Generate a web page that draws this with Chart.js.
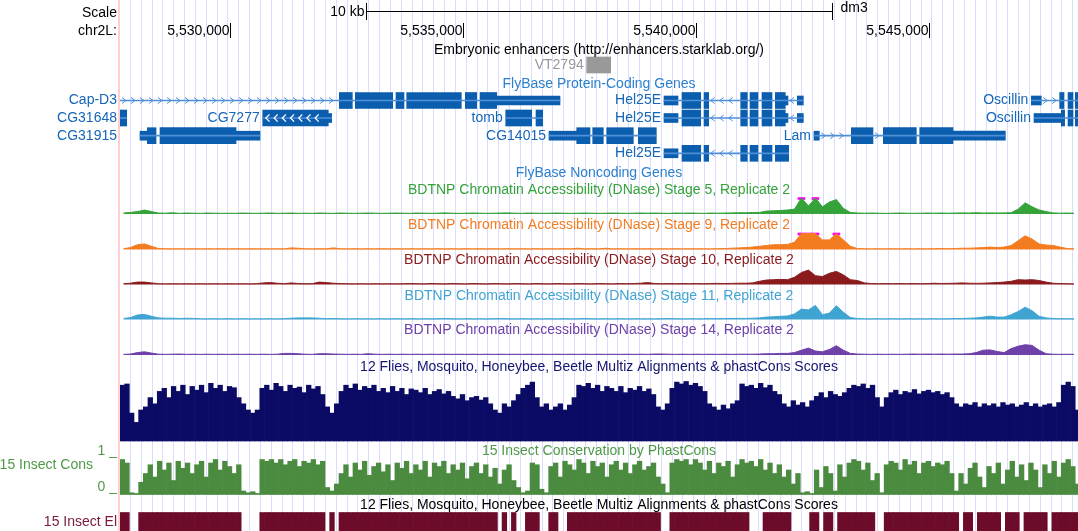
<!DOCTYPE html>
<html>
<head>
<meta charset="utf-8">
<script src="https://cdn.jsdelivr.net/npm/chart.js@4.4.1/dist/chart.umd.min.js"></script>
<style>
html,body{margin:0;padding:0;background:#fff;overflow:hidden;}
canvas{display:block;}
</style>
</head>
<body>
<canvas id="c" width="1078" height="531"></canvas>
<script>
// ================= DATA =================
const viewStart = 5527640;
const viewEnd = 5548200;
const chromLabel = 'chr2L:';
const assemblyLabel = 'dm3';
const rulerTicks = [5530000, 5535000, 5540000, 5545000];
const scaleBarBp = 10000;
const scaleBarLabel = '10 kb';

// Embryonic enhancers
const enhancerNames = ['VT2794'];
const enhancerStarts = [5537656];
const enhancerEnds = [5538171];

// FlyBase protein-coding genes
const geneNames   = ['Cap-D3','CG31648','CG7277','CG31915','tomb','CG14015','Hel25E','Hel25E','Hel25E','Lam','Oscillin','Oscillin'];
const geneRows    = [0,1,1,2,1,2,0,1,3,2,0,1];
const geneStrands = ['+','+','-','+','-','-','-','-','-','+','+','+'];
const geneExonArrows = [false,false,true,false,false,false,false,false,false,false,false,false];
const geneTx = [
  [5527500,5537083],[5527500,5527784],[5530703,5532183],[5528069,5530645],[5535918,5536712],[5536847,5539150],
  [5539315,5542305],[5539315,5542305],[5539315,5541991],[5542534,5546640],[5547198,5548400],[5547256,5548400]
];
const geneCds = [
  [[5532347,5532626],[5532690,5533493],[5533563,5533735],[5533793,5534965],[5535051,5535295],[5535366,5535725]],
  [[5527500,5527784]],
  [[5530703,5532110]],
  [[5528226,5528413],[5528498,5530130]],
  [[5535918,5536476],[5536568,5536712]],
  [[5537442,5537727],[5537785,5538012],[5538085,5538656],[5538764,5539150]],
  [[5539701,5540103],[5540174,5540274],[5540961,5541103],[5541161,5541332],[5541418,5541633],[5541704,5541918]],
  [[5539701,5540103],[5540174,5540274],[5540961,5541103],[5541161,5541332],[5541418,5541633],[5541704,5541918]],
  [[5539701,5540103],[5540174,5540274],[5540961,5541103],[5541161,5541332],[5541418,5541633],[5541704,5541991]],
  [[5543335,5543800],[5544022,5544730],[5544803,5545517]],
  [[5547807,5547900],[5547986,5548093],[5548142,5548400]],
  [[5547842,5547913],[5547986,5548093],[5548142,5548400]]
];
const geneUtr = [
  [[5535725,5537083]],
  [],
  [[5532110,5532183]],
  [[5528069,5528226],[5530130,5530645]],
  [],
  [[5536847,5537442]],
  [[5539315,5539616],[5541918,5541976],[5542176,5542305]],
  [[5539315,5539616],[5541918,5541976],[5542176,5542305]],
  [[5539315,5539616]],
  [[5542534,5542648],[5545517,5546640]],
  [[5547198,5547412]],
  [[5547256,5547842]]
];

// BDTNP DNase accessibility, 150 bp bins from viewStart (1.0 = track maximum)
const dnaseBinBp = 150;
const dnaseStage5 = [0.06,0.1,0.15,0.25,0.15,0.06,0.05,0.08,0.04,0.06,
 0.05,0.04,0.06,0.05,0.04,0.05,0.04,0.06,0.05,0.04,
 0.05,0.06,0.04,0.05,0.06,0.04,0.05,0.04,0.06,0.05,
 0.04,0.06,0.05,0.04,0.05,0.06,0.05,0.04,0.05,0.06,
 0.05,0.04,0.06,0.05,0.04,0.05,0.07,0.05,0.04,0.05,
 0.06,0.05,0.04,0.05,0.06,0.07,0.05,0.04,0.06,0.05,
 0.04,0.05,0.06,0.05,0.04,0.05,0.06,0.05,0.04,0.05,
 0.06,0.05,0.04,0.05,0.06,0.05,0.06,0.05,0.04,0.06,
 0.05,0.06,0.05,0.04,0.06,0.05,0.06,0.07,0.08,0.08,
 0.09,0.1,0.18,0.2,0.22,0.25,0.3,1.1,0.5,1.1,
 0.45,0.75,0.9,0.35,0.1,0.06,0.05,0.06,0.05,0.04,
 0.05,0.06,0.05,0.04,0.05,0.06,0.05,0.06,0.05,0.06,
 0.07,0.06,0.08,0.06,0.07,0.06,0.07,0.08,0.3,0.7,
 0.45,0.25,0.15,0.07,0.05,0.06,0.05];
const dnaseStage9 = [0.05,0.12,0.3,0.35,0.2,0.06,0.05,0.04,0.05,0.04,
 0.05,0.04,0.05,0.04,0.05,0.04,0.05,0.04,0.05,0.04,
 0.05,0.04,0.05,0.04,0.1,0.08,0.05,0.04,0.05,0.04,
 0.1,0.05,0.04,0.05,0.04,0.05,0.04,0.05,0.04,0.05,
 0.04,0.05,0.04,0.05,0.04,0.05,0.04,0.05,0.04,0.05,
 0.04,0.05,0.04,0.05,0.04,0.05,0.04,0.05,0.04,0.05,
 0.04,0.05,0.04,0.05,0.04,0.08,0.04,0.05,0.04,0.08,
 0.04,0.05,0.04,0.05,0.04,0.05,0.04,0.05,0.04,0.05,
 0.04,0.05,0.04,0.05,0.04,0.05,0.06,0.08,0.1,0.12,
 0.15,0.2,0.25,0.3,0.3,0.32,0.45,1.1,1.05,1.1,
 0.6,0.6,1.1,0.6,0.2,0.06,0.05,0.04,0.05,0.04,
 0.05,0.04,0.05,0.04,0.05,0.04,0.05,0.06,0.05,0.06,
 0.08,0.08,0.1,0.12,0.15,0.12,0.15,0.25,0.55,0.86,
 0.65,0.35,0.28,0.25,0.15,0.06,0.04];
const dnaseStage10 = [0.05,0.08,0.15,0.15,0.1,0.05,0.04,0.05,0.04,0.05,
 0.04,0.05,0.04,0.05,0.04,0.05,0.04,0.05,0.04,0.05,
 0.1,0.12,0.08,0.05,0.1,0.06,0.05,0.05,0.15,0.12,
 0.08,0.06,0.05,0.04,0.05,0.04,0.05,0.04,0.05,0.04,
 0.05,0.06,0.05,0.04,0.06,0.05,0.04,0.06,0.05,0.04,
 0.06,0.05,0.04,0.06,0.05,0.04,0.06,0.05,0.04,0.06,
 0.05,0.04,0.06,0.05,0.04,0.06,0.05,0.04,0.06,0.05,
 0.04,0.06,0.05,0.06,0.08,0.12,0.06,0.05,0.06,0.05,
 0.06,0.05,0.06,0.05,0.06,0.07,0.06,0.07,0.08,0.08,
 0.1,0.2,0.28,0.3,0.32,0.3,0.45,0.75,0.9,0.55,
 0.5,0.7,0.82,0.6,0.3,0.25,0.1,0.06,0.05,0.06,
 0.05,0.06,0.05,0.06,0.05,0.06,0.08,0.06,0.07,0.08,
 0.1,0.08,0.07,0.08,0.1,0.12,0.15,0.2,0.3,0.28,
 0.3,0.25,0.15,0.08,0.06,0.05,0.04];
const dnaseStage11 = [0.06,0.12,0.28,0.32,0.2,0.1,0.08,0.08,0.06,0.08,
 0.07,0.05,0.04,0.05,0.04,0.05,0.04,0.05,0.04,0.05,
 0.04,0.05,0.04,0.05,0.08,0.1,0.1,0.1,0.08,0.05,
 0.06,0.05,0.04,0.05,0.04,0.05,0.04,0.05,0.04,0.05,
 0.04,0.05,0.04,0.05,0.04,0.05,0.06,0.05,0.04,0.05,
 0.04,0.05,0.04,0.05,0.06,0.05,0.04,0.05,0.04,0.05,
 0.04,0.05,0.04,0.05,0.04,0.05,0.06,0.05,0.04,0.05,
 0.04,0.05,0.04,0.05,0.04,0.05,0.04,0.05,0.06,0.05,
 0.04,0.05,0.04,0.05,0.06,0.05,0.06,0.06,0.07,0.07,
 0.08,0.1,0.15,0.17,0.2,0.22,0.35,0.65,0.6,0.88,
 0.3,0.4,0.86,0.45,0.12,0.06,0.05,0.04,0.05,0.04,
 0.05,0.04,0.05,0.04,0.05,0.04,0.05,0.04,0.05,0.06,
 0.06,0.08,0.1,0.15,0.21,0.15,0.15,0.3,0.5,0.77,
 0.55,0.2,0.1,0.06,0.05,0.05,0.04];
const dnaseStage14 = [0.04,0.06,0.15,0.2,0.12,0.05,0.04,0.05,0.06,0.04,
 0.05,0.04,0.05,0.04,0.05,0.04,0.05,0.04,0.05,0.04,
 0.05,0.04,0.05,0.1,0.1,0.08,0.05,0.04,0.08,0.08,
 0.06,0.05,0.04,0.05,0.04,0.08,0.05,0.04,0.05,0.04,
 0.05,0.04,0.05,0.04,0.05,0.04,0.05,0.04,0.05,0.04,
 0.05,0.04,0.05,0.04,0.05,0.04,0.05,0.04,0.05,0.04,
 0.05,0.04,0.05,0.04,0.05,0.04,0.05,0.04,0.05,0.04,
 0.05,0.04,0.05,0.04,0.05,0.04,0.06,0.06,0.05,0.04,
 0.05,0.04,0.05,0.04,0.05,0.04,0.05,0.04,0.05,0.05,
 0.05,0.06,0.08,0.08,0.1,0.1,0.15,0.3,0.43,0.25,
 0.2,0.35,0.58,0.3,0.1,0.06,0.05,0.04,0.05,0.04,
 0.05,0.04,0.05,0.06,0.05,0.06,0.05,0.06,0.05,0.06,
 0.06,0.08,0.15,0.3,0.32,0.22,0.15,0.4,0.55,0.64,
 0.6,0.3,0.08,0.05,0.04,0.05,0.04];

// Conservation tracks, 100 bp bins from viewStart
const consBinBp = 100;
const multizScores = [0.9,0.92,0.45,0.3,0.5,0.55,0.7,0.6,0.8,0.85,
 0.7,0.88,0.8,0.9,0.75,0.88,0.82,0.9,0.78,0.93,
 0.85,0.9,0.8,0.88,0.86,0.7,0.6,0.5,0.45,0.5,
 0.85,0.9,0.82,0.93,0.88,0.8,0.9,0.85,0.87,0.78,
 0.9,0.84,0.88,0.75,0.55,0.45,0.6,0.8,0.9,0.85,
 0.92,0.82,0.88,0.85,0.9,0.8,0.85,0.78,0.88,0.8,
 0.85,0.75,0.84,0.82,0.78,0.85,0.75,0.8,0.83,0.76,
 0.8,0.72,0.68,0.75,0.65,0.7,0.72,0.66,0.7,0.6,
 0.5,0.45,0.6,0.55,0.65,0.75,0.85,0.9,0.95,0.7,
 0.55,0.6,0.5,0.55,0.6,0.5,0.58,0.7,0.9,0.88,
 0.93,0.85,0.9,0.8,0.88,0.85,0.8,0.88,0.78,0.85,
 0.82,0.88,0.8,0.84,0.75,0.55,0.5,0.6,0.85,0.95,
 0.92,0.96,0.9,0.93,0.88,0.8,0.6,0.55,0.5,0.58,
 0.52,0.6,0.65,0.92,0.88,0.9,0.85,0.93,0.86,0.9,
 0.8,0.75,0.6,0.55,0.65,0.58,0.62,0.55,0.65,0.72,
 0.78,0.7,0.8,0.75,0.72,0.78,0.85,0.9,0.88,0.92,
 0.85,0.9,0.7,0.55,0.7,0.78,0.82,0.75,0.8,0.78,
 0.83,0.76,0.8,0.82,0.78,0.8,0.75,0.78,0.7,0.6,
 0.55,0.6,0.58,0.62,0.55,0.6,0.57,0.6,0.55,0.62,
 0.58,0.6,0.55,0.58,0.62,0.56,0.6,0.55,0.58,0.6,
 0.55,0.62,0.9,0.95,0.88,0.5];
const phastConsScores = [1.0,0.9,0.05,0.03,0.35,0.6,0.85,0.5,0.95,0.7,
 0.9,0.4,0.95,0.75,0.9,0.6,0.85,0.95,0.5,0.9,
 1.0,0.7,0.95,0.8,0.6,0.85,0.1,0.05,0.08,0.03,
 1.0,0.95,1.0,0.9,1.0,0.85,0.95,1.0,0.8,0.95,
 0.9,1.0,0.85,0.95,0.2,0.1,0.3,0.6,0.85,0.5,
 0.9,0.7,0.95,0.55,0.8,0.9,0.65,0.85,0.4,0.9,
 0.75,0.95,0.6,0.85,0.7,0.95,0.5,0.9,0.8,0.95,
 0.6,0.85,0.7,0.9,0.45,0.8,0.9,0.6,0.85,0.5,
 0.75,0.3,0.7,0.85,0.4,0.2,0.05,0.1,0.9,0.85,
 0.15,0.05,0.8,0.9,0.5,0.95,0.85,0.7,1.0,0.9,
 0.6,0.95,0.8,0.9,0.5,0.85,0.95,0.7,0.9,0.6,
 0.85,0.95,0.7,0.8,0.9,0.5,0.3,0.05,0.9,1.0,
 0.95,1.0,0.85,1.0,0.9,0.7,0.95,0.6,0.9,0.8,
 0.95,0.5,0.85,1.0,0.9,0.95,0.8,1.0,0.7,0.9,
 0.6,0.85,0.5,0.7,0.3,0.6,0.05,0.08,0.03,0.7,
 0.2,0.8,0.6,0.1,0.85,0.5,0.9,1.0,0.95,0.7,
 0.9,0.4,0.6,0.05,0.85,0.95,0.9,0.7,1.0,0.85,
 0.95,0.6,0.9,0.95,0.8,0.9,0.85,0.95,0.6,0.1,
 0.6,0.3,0.75,0.9,0.5,0.2,0.8,0.6,0.9,0.3,
 0.7,0.95,0.5,0.85,0.4,0.9,0.7,0.2,0.85,0.6,
 0.95,0.5,0.9,1.0,0.8,0.3];
const insectElements = [1,1,0,0,1,1,1,1,1,1,
 1,1,1,1,1,1,1,1,1,1,
 1,1,1,1,1,1,0,0,0,0,
 1,1,1,1,1,1,1,1,1,1,
 1,1,1,1,0,1,0,1,1,1,
 1,1,1,1,1,1,1,1,1,1,
 1,1,1,1,1,1,1,1,1,1,
 1,1,1,1,1,1,1,1,1,1,
 1,0,1,0,1,0,0,1,1,1,
 0,0,1,1,0,0,1,1,1,1,
 1,1,1,1,1,1,1,1,1,1,
 1,1,1,1,1,1,0,0,1,1,
 1,1,1,1,1,1,1,1,1,1,
 1,1,1,1,1,0,0,0,1,1,
 1,1,1,1,0,0,0,0,1,1,
 0,1,1,0,1,1,1,1,1,1,
 1,1,0,0,1,1,1,1,1,1,
 1,1,1,1,1,1,1,1,1,1,
 0,1,1,0,1,1,1,1,1,0,
 1,1,1,0,1,1,1,1,1,0,
 1,1,1,1,1,1];

const trackTitles = {
  enh: 'Embryonic enhancers (http://enhancers.starklab.org/)',
  coding: 'FlyBase Protein-Coding Genes',
  noncoding: 'FlyBase Noncoding Genes',
  dnase: ['BDTNP Chromatin Accessibility (DNase) Stage 5, Replicate 2',
          'BDTNP Chromatin Accessibility (DNase) Stage 9, Replicate 2',
          'BDTNP Chromatin Accessibility (DNase) Stage 10, Replicate 2',
          'BDTNP Chromatin Accessibility (DNase) Stage 11, Replicate 2',
          'BDTNP Chromatin Accessibility (DNase) Stage 14, Replicate 2'],
  multiz: '12 Flies, Mosquito, Honeybee, Beetle Multiz Alignments & phastCons Scores',
  cons: '15 Insect Conservation by PhastCons',
  elements: '12 Flies, Mosquito, Honeybee, Beetle Multiz Alignments & phastCons Scores'
};
const sideLabels = { cons: '15 Insect Cons', consMax: '1 _', consMin: '0 _', elements: '15 Insect El', scale: 'Scale' };

// ================= LAYOUT / STYLE =================
const W = 1078, H = 531, LEFT = 120;
const FONT = '14px "Liberation Sans", Arial, Helvetica, sans-serif';
const ROW_Y = [100.5, 118, 135.7, 153.3];
const CDS_H = 16, UTR_H = 9;
const DN_BASE = [214, 249.5, 284.5, 319.5, 355], DN_H = 16;
const DN_TITLE_Y = [190.5, 225, 260.5, 296, 330.5];
const DN_COLORS = ['#35a23a', '#f47c20', '#8b1a1c', '#3fa4d2', '#6e40a8'];
const MZ_BASE = 441, MZ_H = 62, MZ_COLOR = '#0b0b66';
const PC_BASE = 494.5, PC_H = 35, PC_COLOR = '#4b8b40';
const EL_TOP = 512.5, EL_BOTTOM = 532, EL_COLOR = '#6d0b2b';
const GENE_COLOR = '#0b5dae', GENE_LINE = '#4f8fd8', GENE_TEXT = '#1565b8', TITLE_BLUE = '#2b80cf';
const GRID_COLOR = '#dcdcff', PINK = '#ffcfcf';
const GUIDE_FIRST = 10, GUIDE_STEP = 10.83;

const pxPerBp = (W - LEFT) / (viewEnd - viewStart);
const binMid = (i, bin) => viewStart + (i + 0.5) * bin;

// ================= DATASETS =================
const datasets = [];

datasets.push({
  type: 'bar', indexAxis: 'y', grouped: false, barThickness: 16,
  backgroundColor: '#999999',
  data: enhancerStarts.map((s, i) => ({x: [s, enhancerEnds[i]], y: 65}))
});
datasets.push({
  type: 'bar', indexAxis: 'y', grouped: false, barThickness: 1,
  backgroundColor: GENE_LINE,
  data: geneTx.map((t, g) => ({x: [t[0], t[1]], y: ROW_Y[geneRows[g]]}))
});
datasets.push({
  type: 'bar', indexAxis: 'y', grouped: false, barThickness: UTR_H,
  backgroundColor: GENE_COLOR,
  data: geneUtr.flatMap((list, g) => list.map(b => ({x: [b[0], b[1]], y: ROW_Y[geneRows[g]]})))
});
datasets.push({
  type: 'bar', indexAxis: 'y', grouped: false, barThickness: CDS_H,
  backgroundColor: GENE_COLOR,
  data: geneCds.flatMap((list, g) => list.map(b => ({x: [b[0], b[1]], y: ROW_Y[geneRows[g]]})))
});

const dnaseSeries = [dnaseStage5, dnaseStage9, dnaseStage10, dnaseStage11, dnaseStage14];
dnaseSeries.forEach((vals, k) => {
  datasets.push({
    type: 'line', indexAxis: 'x',
    borderColor: DN_COLORS[k], backgroundColor: DN_COLORS[k], borderWidth: 1,
    pointRadius: 0, tension: 0, fill: {value: DN_BASE[k]},
    data: vals.map((v, i) => ({x: binMid(i, dnaseBinBp), y: DN_BASE[k] - Math.min(v, 1) * DN_H}))
  });
  datasets.push({
    type: 'bar', indexAxis: 'y', grouped: false, barThickness: 2,
    backgroundColor: '#ff00ff',
    data: vals.map((v, i) => v > 1 ? {x: [viewStart + i * dnaseBinBp, viewStart + (i + 1) * dnaseBinBp], y: DN_BASE[k] - DN_H + 0.5} : null).filter(Boolean)
  });
});

datasets.push({
  type: 'bar', indexAxis: 'x', grouped: false, barThickness: consBinBp * pxPerBp,
  backgroundColor: MZ_COLOR,
  data: multizScores.map((v, i) => ({x: binMid(i, consBinBp), y: [MZ_BASE, MZ_BASE - v * MZ_H]}))
});
datasets.push({
  type: 'bar', indexAxis: 'x', grouped: false, barThickness: consBinBp * pxPerBp,
  backgroundColor: PC_COLOR,
  data: phastConsScores.map((v, i) => ({x: binMid(i, consBinBp), y: [PC_BASE, PC_BASE - v * PC_H]}))
});
datasets.push({
  type: 'bar', indexAxis: 'x', grouped: false, barThickness: consBinBp * pxPerBp,
  backgroundColor: EL_COLOR,
  data: insectElements.map((v, i) => v ? {x: binMid(i, consBinBp), y: [EL_TOP, EL_BOTTOM]} : null).filter(Boolean)
});

// ================= PLUGIN (guides, chevrons, text) =================
function text(ctx, s, x, y, color, align) {
  ctx.fillStyle = color; ctx.textAlign = align || 'center'; ctx.fillText(s, x, y);
}
function chevron(ctx, cx, cy, dir, hw, hh) {
  ctx.moveTo(cx - dir * hw, cy - hh);
  ctx.lineTo(cx + dir * hw, cy);
  ctx.lineTo(cx - dir * hw, cy + hh);
}

const ucsc = {
  id: 'ucsc',
  beforeDatasetsDraw(chart) {
    const {ctx, chartArea: a} = chart;
    ctx.save();
    ctx.strokeStyle = GRID_COLOR; ctx.lineWidth = 1;
    ctx.beginPath();
    for (let px = a.left + GUIDE_FIRST; px < a.right; px += GUIDE_STEP) {
      const xx = Math.round(px) + 0.5;
      ctx.moveTo(xx, 0); ctx.lineTo(xx, H);
    }
    ctx.stroke();
    ctx.fillStyle = PINK; ctx.fillRect(a.left - 2, 0, 2, H);
    ctx.restore();
  },
  afterDatasetsDraw(chart) {
    const {ctx, chartArea: a, scales: {x}} = chart;
    const X = v => x.getPixelForValue(v);
    ctx.save();
    ctx.font = FONT; ctx.textBaseline = 'middle';

    ctx.save();
    ctx.beginPath(); ctx.rect(a.left, a.top, a.right - a.left, a.bottom - a.top); ctx.clip();
    geneTx.forEach((t, g) => {
      const y = ROW_Y[geneRows[g]];
      const dir = geneStrands[g] === '+' ? 1 : -1;
      const blocks = geneCds[g].concat(geneUtr[g]).slice().sort((p, q) => p[0] - q[0]);
      const gaps = [];
      let cur = t[0];
      blocks.forEach(b => { if (b[0] > cur) gaps.push([cur, b[0]]); cur = Math.max(cur, b[1]); });
      if (t[1] > cur) gaps.push([cur, t[1]]);
      ctx.strokeStyle = GENE_LINE; ctx.lineWidth = 1;
      ctx.beginPath();
      gaps.forEach(gp => {
        const p0 = Math.max(X(gp[0]), a.left), p1 = Math.min(X(gp[1]), a.right);
        if (p1 - p0 < 7) return;
        for (let cx = p0 + 4; cx <= p1 - 3; cx += 9) chevron(ctx, cx, y, dir, 2, 3);
      });
      ctx.stroke();
      if (geneExonArrows[g]) {
        ctx.strokeStyle = '#ffffff'; ctx.lineWidth = 1.3;
        ctx.beginPath();
        geneCds[g].forEach(b => {
          const p0 = X(b[0]), p1 = X(b[1]);
          for (let cx = p0 + 5; cx <= p1 - 4; cx += 8.2) chevron(ctx, cx, y, dir, 1.8, 3.6);
        });
        ctx.stroke();
      }
    });
    ctx.restore();

    ctx.fillStyle = '#000'; ctx.strokeStyle = '#000'; ctx.lineWidth = 1;
    text(ctx, sideLabels.scale, LEFT - 3, 13, '#000', 'right');
    text(ctx, chromLabel, LEFT - 3, 31.5, '#000', 'right');
    const mid = (viewStart + viewEnd) / 2;
    const b0 = Math.round(X(mid - scaleBarBp / 2)) + 0.5, b1 = Math.round(X(mid + scaleBarBp / 2)) + 0.5;
    ctx.beginPath();
    ctx.moveTo(b0, 11.5); ctx.lineTo(b1, 11.5);
    ctx.moveTo(b0, 3); ctx.lineTo(b0, 20);
    ctx.moveTo(b1, 3); ctx.lineTo(b1, 20);
    rulerTicks.forEach(t => {
      const p = Math.round(X(t)) + 0.5;
      ctx.moveTo(p, 23); ctx.lineTo(p, 38);
    });
    ctx.stroke();
    text(ctx, scaleBarLabel, b0 - 2, 12, '#000', 'right');
    text(ctx, assemblyLabel, b1 + 8, 8.5, '#000', 'left');
    rulerTicks.forEach(t => text(ctx, t.toLocaleString('en-US'), Math.round(X(t)) - 0.5, 31.5, '#000', 'right'));

    const cx = (a.left + a.right) / 2;
    text(ctx, trackTitles.enh, cx, 50, '#000');
    enhancerNames.forEach((n, i) => text(ctx, n, X(enhancerStarts[i]) - 3, 65.5, '#999999', 'right'));
    text(ctx, trackTitles.coding, cx, 84, TITLE_BLUE);
    geneNames.forEach((n, g) => {
      const y = ROW_Y[geneRows[g]];
      const sx = X(geneTx[g][0]);
      const w = ctx.measureText(n).width;
      if (sx - 3 - w < a.left) text(ctx, n, LEFT - 3, y, GENE_TEXT, 'right');
      else text(ctx, n, sx - 3, y, GENE_TEXT, 'right');
    });
    text(ctx, trackTitles.noncoding, cx, 173.5, TITLE_BLUE);
    trackTitles.dnase.forEach((s, k) => text(ctx, s, cx, DN_TITLE_Y[k], DN_COLORS[k]));
    text(ctx, trackTitles.multiz, cx, 367, '#14146e');
    text(ctx, trackTitles.cons, cx, 451, '#4f9a46');
    text(ctx, sideLabels.cons, 93, 465, '#4f9a46', 'right');
    text(ctx, sideLabels.consMax, LEFT - 3, 451, '#4f9a46', 'right');
    text(ctx, sideLabels.consMin, LEFT - 3, 487.5, '#4f9a46', 'right');
    text(ctx, trackTitles.elements, cx, 505.5, '#000');
    text(ctx, sideLabels.elements, LEFT - 3, 522, '#7a1838', 'right');
    ctx.restore();
  }
};

new Chart(document.getElementById('c'), {
  type: 'bar',
  data: { datasets },
  options: {
    responsive: false,
    animation: false,
    events: [],
    layout: { padding: { left: LEFT, right: 0, top: 0, bottom: 0 } },
    plugins: { legend: { display: false }, tooltip: { enabled: false } },
    scales: {
      x: { type: 'linear', min: viewStart, max: viewEnd, display: false, offset: false },
      y: { type: 'linear', min: 0, max: H, reverse: true, display: false, offset: false }
    }
  },
  plugins: [ucsc]
});
</script>
</body>
</html>
